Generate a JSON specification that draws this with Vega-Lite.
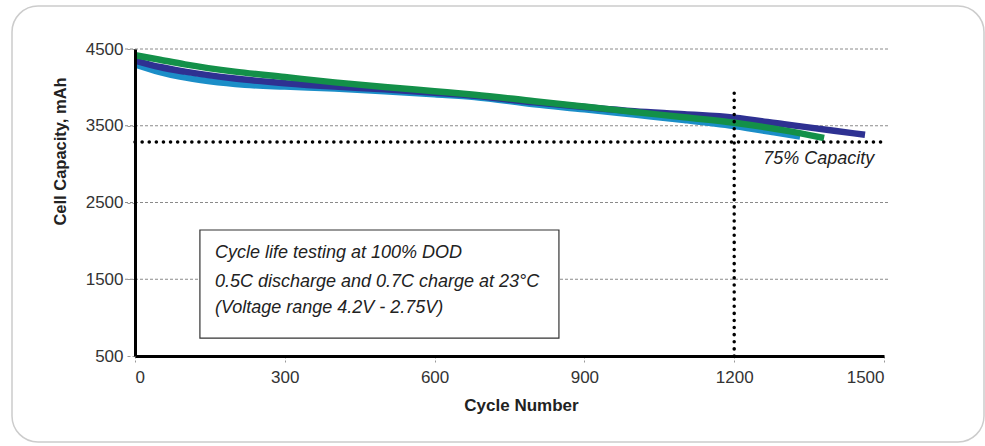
{
  "$schema": "https://vega.github.io/schema/vega-lite/v6.json",
  "width": 972,
  "height": 436,
  "autosize": {"type": "none"},
  "padding": {"left": 12, "top": 6, "right": 1, "bottom": 4},
  "background": "white",
  "config": {
    "font": "Liberation Sans",
    "view": {"stroke": "#cccccc", "strokeWidth": 1.5, "cornerRadius": 26}
  },
  "datasets": {
    "curves": [
      {"series": "light", "cycle": 0, "capacity": 4300},
      {"series": "light", "cycle": 50, "capacity": 4200},
      {"series": "light", "cycle": 90, "capacity": 4140},
      {"series": "light", "cycle": 150, "capacity": 4080},
      {"series": "light", "cycle": 220, "capacity": 4035},
      {"series": "light", "cycle": 300, "capacity": 4010},
      {"series": "light", "cycle": 400, "capacity": 3985},
      {"series": "light", "cycle": 500, "capacity": 3950},
      {"series": "light", "cycle": 600, "capacity": 3910},
      {"series": "light", "cycle": 680, "capacity": 3875},
      {"series": "light", "cycle": 800, "capacity": 3780},
      {"series": "light", "cycle": 900, "capacity": 3715},
      {"series": "light", "cycle": 1000, "capacity": 3645},
      {"series": "light", "cycle": 1100, "capacity": 3575},
      {"series": "light", "cycle": 1200, "capacity": 3495},
      {"series": "light", "cycle": 1280, "capacity": 3415},
      {"series": "light", "cycle": 1332, "capacity": 3360},
      {"series": "dark", "cycle": 0, "capacity": 4350},
      {"series": "dark", "cycle": 50, "capacity": 4265},
      {"series": "dark", "cycle": 100, "capacity": 4205},
      {"series": "dark", "cycle": 200, "capacity": 4115},
      {"series": "dark", "cycle": 300, "capacity": 4055},
      {"series": "dark", "cycle": 400, "capacity": 4010},
      {"series": "dark", "cycle": 500, "capacity": 3975},
      {"series": "dark", "cycle": 600, "capacity": 3930},
      {"series": "dark", "cycle": 680, "capacity": 3890},
      {"series": "dark", "cycle": 800, "capacity": 3805},
      {"series": "dark", "cycle": 900, "capacity": 3745},
      {"series": "dark", "cycle": 1000, "capacity": 3690},
      {"series": "dark", "cycle": 1100, "capacity": 3650},
      {"series": "dark", "cycle": 1200, "capacity": 3605},
      {"series": "dark", "cycle": 1300, "capacity": 3520},
      {"series": "dark", "cycle": 1400, "capacity": 3435},
      {"series": "dark", "cycle": 1462, "capacity": 3382},
      {"series": "green", "cycle": 0, "capacity": 4420},
      {"series": "green", "cycle": 50, "capacity": 4360},
      {"series": "green", "cycle": 100, "capacity": 4300},
      {"series": "green", "cycle": 200, "capacity": 4205},
      {"series": "green", "cycle": 300, "capacity": 4135},
      {"series": "green", "cycle": 400, "capacity": 4065},
      {"series": "green", "cycle": 500, "capacity": 4005},
      {"series": "green", "cycle": 600, "capacity": 3950},
      {"series": "green", "cycle": 680, "capacity": 3905},
      {"series": "green", "cycle": 800, "capacity": 3820},
      {"series": "green", "cycle": 900, "capacity": 3750},
      {"series": "green", "cycle": 1000, "capacity": 3680},
      {"series": "green", "cycle": 1100, "capacity": 3610},
      {"series": "green", "cycle": 1200, "capacity": 3540},
      {"series": "green", "cycle": 1300, "capacity": 3440},
      {"series": "green", "cycle": 1380, "capacity": 3340}
    ]
  },
  "layer": [
    {
      "data": {"values": [
        {"capacity": 4500, "cycle": -20, "cycle2": 1512},
        {"capacity": 3500, "cycle": -20, "cycle2": 1512},
        {"capacity": 2500, "cycle": -20, "cycle2": 1512},
        {"capacity": 1500, "cycle": -20, "cycle2": 1512}
      ]},
      "mark": {"type": "rule", "color": "#8a8a8a", "strokeWidth": 1, "strokeDash": [3, 2]},
      "encoding": {
        "x": {"field": "cycle", "type": "quantitative",
          "scale": {"domain": [0, 1500], "range": [123, 872], "nice": false, "zero": false},
          "axis": {
            "title": "Cycle Number",
            "values": [0, 300, 600, 900, 1200, 1500],
            "format": "d",
            "offset": -86,
            "zindex": 1,
            "grid": false,
            "domainColor": "black",
            "domainWidth": 3,
            "tickColor": "#999999",
            "tickDash": [2, 2],
            "tickSize": 7,
            "tickWidth": 1,
            "labelFontSize": 17,
            "labelColor": "#333333",
            "labelPadding": 6,
            "titleFontSize": 17,
            "titleFontWeight": "bold",
            "titleColor": "#222222",
            "titleX": 509,
            "titleY": 41,
            "titleBaseline": "top"
          }},
        "x2": {"field": "cycle2"},
        "y": {"field": "capacity", "type": "quantitative",
          "scale": {"domain": [500, 4500], "range": [350, 43], "nice": false, "zero": false},
          "axis": {
            "title": "Cell Capacity, mAh",
            "values": [500, 1500, 2500, 3500, 4500],
            "format": "d",
            "offset": -123,
            "zindex": 1,
            "grid": false,
            "domainColor": "black",
            "domainWidth": 3,
            "tickColor": "#999999",
            "tickDash": [3, 2],
            "tickSize": 9,
            "tickWidth": 1,
            "labelFontSize": 17,
            "labelColor": "#333333",
            "labelPadding": 3,
            "titleFontSize": 16.5,
            "titleFontWeight": "bold",
            "titleColor": "#222222",
            "titleX": -67,
            "titleY": 145,
            "titleBaseline": "bottom"
          }}
      }
    },
    {
      "data": {"values": [{"cycle": 130, "cycle2": 849, "capacity": 734, "capacity2": 2142}]},
      "mark": {"type": "rect", "fill": "white", "stroke": "#333333", "strokeWidth": 1.2},
      "encoding": {
        "x": {"field": "cycle", "type": "quantitative"},
        "x2": {"field": "cycle2"},
        "y": {"field": "capacity", "type": "quantitative"},
        "y2": {"field": "capacity2"}
      }
    },
    {
      "data": {"name": "curves"},
      "transform": [{"filter": "datum.series === 'light'"}],
      "mark": {"type": "line", "color": "#1b8ec8", "strokeWidth": 6.5, "interpolate": "monotone"},
      "encoding": {
        "x": {"field": "cycle", "type": "quantitative"},
        "y": {"field": "capacity", "type": "quantitative"}
      }
    },
    {
      "data": {"name": "curves"},
      "transform": [{"filter": "datum.series === 'dark'"}],
      "mark": {"type": "line", "color": "#2e3192", "strokeWidth": 6.5, "interpolate": "monotone"},
      "encoding": {
        "x": {"field": "cycle", "type": "quantitative"},
        "y": {"field": "capacity", "type": "quantitative"}
      }
    },
    {
      "data": {"name": "curves"},
      "transform": [{"filter": "datum.series === 'green'"}],
      "mark": {"type": "line", "color": "#139049", "strokeWidth": 6.5, "interpolate": "monotone"},
      "encoding": {
        "x": {"field": "cycle", "type": "quantitative"},
        "y": {"field": "capacity", "type": "quantitative"}
      }
    },
    {
      "data": {"values": [{"cycle": 0, "cycle2": 1496, "capacity": 3288}]},
      "mark": {"type": "rule", "color": "black", "strokeWidth": 3.5, "strokeCap": "round", "strokeDash": [0.1, 7]},
      "encoding": {
        "x": {"field": "cycle", "type": "quantitative"},
        "x2": {"field": "cycle2"},
        "y": {"field": "capacity", "type": "quantitative"}
      }
    },
    {
      "data": {"values": [{"cycle": 1200, "capacity": 500, "capacity2": 3995}]},
      "mark": {"type": "rule", "color": "black", "strokeWidth": 3.5, "strokeCap": "round", "strokeDash": [0.1, 7]},
      "encoding": {
        "x": {"field": "cycle", "type": "quantitative"},
        "y": {"field": "capacity", "type": "quantitative"},
        "y2": {"field": "capacity2"}
      }
    },
    {
      "data": {"values": [
        {"label": "75% Capacity", "cycle": 1258, "capacity": 3070},
        {"label": "Cycle life testing at 100% DOD", "cycle": 160, "capacity": 1842},
        {"label": "0.5C discharge and 0.7C charge at 23°C", "cycle": 160, "capacity": 1464},
        {"label": "(Voltage range 4.2V - 2.75V)", "cycle": 160, "capacity": 1125}
      ]},
      "mark": {"type": "text", "align": "left", "baseline": "middle", "fontStyle": "italic", "fontSize": 18, "color": "#222222"},
      "encoding": {
        "x": {"field": "cycle", "type": "quantitative"},
        "y": {"field": "capacity", "type": "quantitative"},
        "text": {"field": "label"}
      }
    }
  ]
}
